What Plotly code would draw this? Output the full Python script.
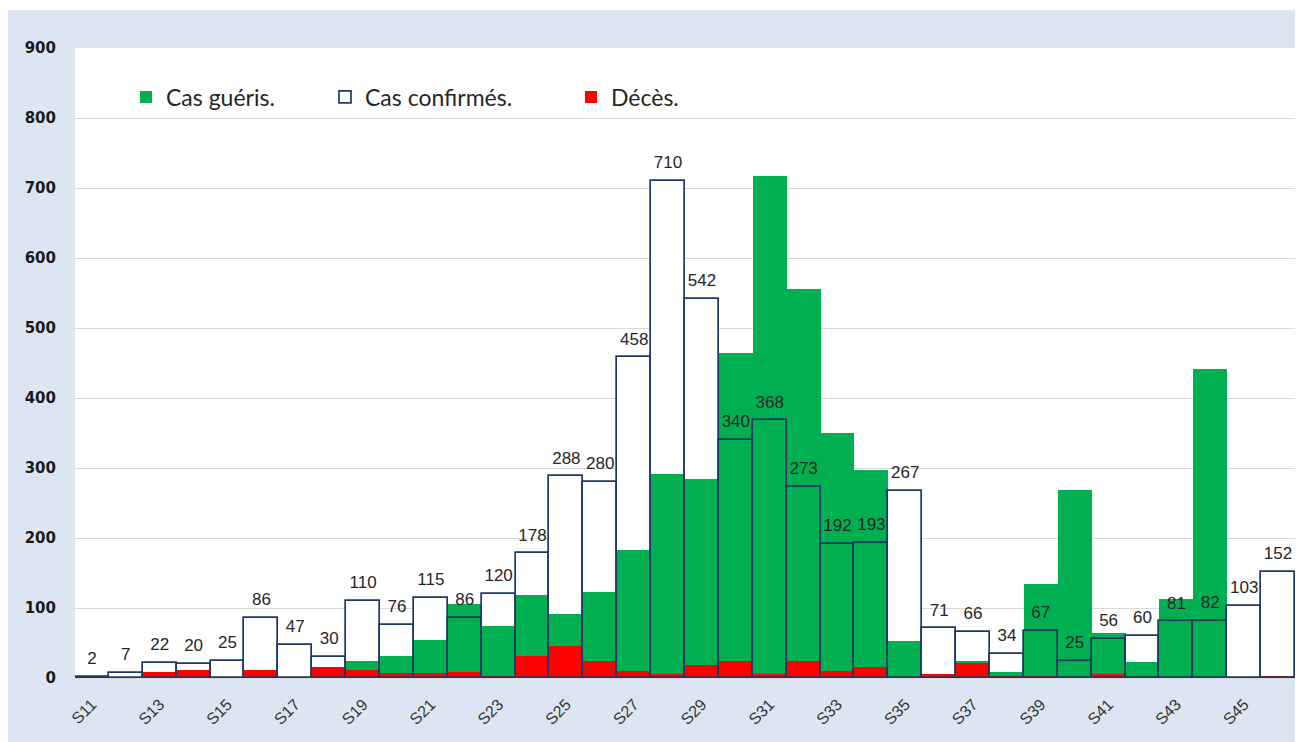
import plotly.graph_objects as go

semaines = ["S11", "S12", "S13", "S14", "S15", "S16", "S17", "S18", "S19", "S20",
            "S21", "S22", "S23", "S24", "S25", "S26", "S27", "S28", "S29", "S30",
            "S31", "S32", "S33", "S34", "S35", "S36", "S37", "S38", "S39", "S40",
            "S41", "S42", "S43", "S44", "S45", "S46"]
ticks_affiches = ["S11", "S13", "S15", "S17", "S19", "S21", "S23", "S25", "S27",
                  "S29", "S31", "S33", "S35", "S37", "S39", "S41", "S43", "S45"]
confirmes = [2, 7, 22, 20, 25, 86, 47, 30, 110, 76, 115, 86, 120, 178, 288, 280,
             458, 710, 542, 340, 368, 273, 192, 193, 267, 71, 66, 34, 67, 25, 56,
             60, 81, 82, 103, 152]
gueris = [0, 0, 0, 0, 0, 0, 0, 0, 25, 32, 55, 106, 74, 118, 91, 123, 183, 291,
          285, 464, 717, 556, 350, 297, 53, 0, 25, 9, 134, 268, 65, 23, 113, 442,
          0, 3]
deces = [0, 0, 8, 12, 1, 11, 1, 16, 11, 7, 7, 9, 2, 32, 46, 24, 10, 6, 19, 24, 6,
         24, 10, 16, 0, 6, 21, 2, 2, 0, 6, 0, 0, 0, 0, 2]

# page is offset by the 8px body margin
OFF = 8
W, H = 1303 - OFF, 742 - OFF
ML, MR, MT, MB = 75 - OFF, 8, 48 - OFF, 64
PW, PH = W - ML - MR, H - MT - MB

BLEU_FOND = "#dce6f2"
VERT = "#00b050"
ROUGE = "#ff0000"
MARINE = "#1f3864"

fig = go.Figure()
# white fill of confirmed bars (behind)
fig.add_trace(go.Bar(x=semaines, y=confirmes, marker=dict(color="white", line=dict(width=0)),
                     showlegend=False, hoverinfo="skip"))
fig.add_trace(go.Bar(x=semaines, y=gueris, name="Cas guéris.",
                     marker=dict(color=VERT, line=dict(width=0)), legend="legend"))
fig.add_trace(go.Bar(x=semaines, y=deces, name="Décès.",
                     marker=dict(color=ROUGE, line=dict(width=0)), legend="legend3"))
# confirmed outline on top
fig.add_trace(go.Bar(x=semaines, y=confirmes, name="Cas confirmés.",
                     marker=dict(color="rgba(255,255,255,0)", line=dict(color=MARINE, width=1.7)),
                     legend="legend2"))
# data labels
fig.add_trace(go.Scatter(x=semaines, y=confirmes, mode="markers+text",
                         text=[str(v) for v in confirmes], textposition="top center",
                         marker=dict(size=12, opacity=0),
                         textfont=dict(family="Liberation Sans", size=17, color="#262626"),
                         showlegend=False, hoverinfo="skip", cliponaxis=False))


def px_x(p):
    # p in page pixels
    return (p - OFF - ML) / PW


def px_y(p):
    return (H - MB - (p - OFF)) / PH


leg_common = dict(orientation="h", yanchor="middle", xanchor="left",
                  bgcolor="rgba(0,0,0,0)", font=dict(family="Lato", size=23, color="#262626"))
y_leg = px_y(97)

fig.update_layout(
    width=W, height=H, autosize=False,
    margin=dict(l=ML, r=MR, t=MT, b=MB),
    paper_bgcolor="white", plot_bgcolor="white",
    barmode="overlay", bargap=0,
    showlegend=True,
    legend=dict(x=px_x(126), y=y_leg, **leg_common),
    legend2=dict(x=px_x(325), y=y_leg, **leg_common),
    legend3=dict(x=px_x(571), y=y_leg, **leg_common),
    shapes=[
        dict(type="rect", xref="paper", yref="paper", layer="below",
             x0=px_x(8), x1=px_x(1303), y0=px_y(742), y1=px_y(10),
             fillcolor=BLEU_FOND, line=dict(width=0)),
        dict(type="rect", xref="paper", yref="paper", layer="below",
             x0=0, x1=1, y0=0, y1=1, fillcolor="white", line=dict(width=0)),
    ],
    xaxis=dict(type="category", categoryorder="array", categoryarray=semaines,
               range=[-0.5, len(semaines) - 0.5],
               tickmode="array", tickvals=ticks_affiches, ticktext=ticks_affiches,
               tickangle=-45, showgrid=False, zeroline=False, showline=False,
               ticks="", ticklabelstandoff=13,
               tickfont=dict(family="Liberation Sans", size=16, color="#333333")),
    yaxis=dict(range=[0, 900], dtick=100, tick0=0, showgrid=True, gridcolor="#d9d9d9",
               gridwidth=1, zeroline=True, zerolinecolor="#d9d9d9", showline=False,
               ticks="", ticklabelstandoff=18,
               tickfont=dict(family="DejaVu Sans", size=15, color="#1a1a1a", weight="bold")),
)

fig.write_html("out.html")
